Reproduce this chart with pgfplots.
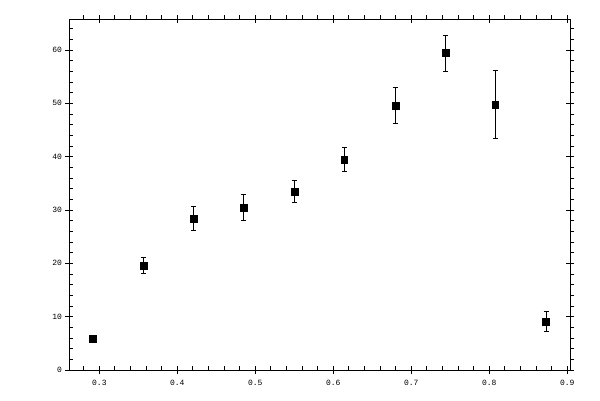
\documentclass[border=0pt]{standalone}
\usepackage{pgfplots}
\pgfplotsset{compat=1.18}
\usepackage{fontspec}
\setmonofont{Liberation Mono}

\pgfplotsset{
  base/.style={
    scale only axis, width=375.5pt, height=263pt,
    xmin=0.2615, xmax=0.9035, ymin=0, ymax=65.75,
    axis line style={line width=0.75pt},
    every tick/.style={black, line width=0.75pt},
    tick label style={font=\fontsize{6}{7}\selectfont\ttfamily},
    /pgf/number format/assume math mode=true,
  },
  minors/.style={base,
    xtick={0.28,0.32,0.34,0.36,0.38,0.42,0.44,0.46,0.48,0.52,0.54,0.56,0.58,0.62,0.64,0.66,0.68,0.72,0.74,0.76,0.78,0.82,0.84,0.86,0.88},
    ytick={2,4,6,8,12,14,16,18,22,24,26,28,32,34,36,38,42,44,46,48,52,54,56,58,62,64},
    xticklabels={}, yticklabels={}, major tick length=3pt,
  },
}

\begin{document}
\begin{tikzpicture}
% minor ticks, inward on bottom and left
\begin{axis}[minors, xtick pos=lower, ytick pos=left, tick align=inside]
\end{axis}
% minor ticks, outward on top and right
\begin{axis}[minors, xtick pos=upper, ytick pos=right, tick align=outside]
\end{axis}
% major ticks, box and data
\begin{axis}[base,
    xtick={0.3,0.4,...,0.9}, ytick={0,10,...,60},
    xticklabels={0.3,0.4,0.5,0.6,0.7,0.8,0.9},
    yticklabels={0,10,20,30,40,50,60},
    tick align=center, major tick length=6pt,
    xtick pos=both, ytick pos=both,
    xticklabel pos=lower, yticklabel pos=left,
    xticklabel style={yshift=-1pt}, yticklabel style={xshift=1pt},
  ]
  \addplot[only marks, mark=square*, mark size=2.6pt, black,
    error bars/.cd, y dir=both, y explicit,
    error bar style={line width=0.75pt},
    error mark options={rotate=90, mark size=2pt, line width=0.75pt}]
  coordinates {
    (0.291,5.9)  +- (0,0.45)
    (0.3564,19.6) +- (0,1.55)
    (0.4205,28.4) +- (0,2.2)
    (0.4846,30.5) +- (0,2.4)
    (0.5500,33.5) +- (0,2.0)
    (0.6140,39.5) +- (0,2.3)
    (0.6795,49.6) +- (0,3.3)
    (0.7436,59.4) +- (0,3.4)
    (0.8077,49.8) +- (0,6.35)
    (0.8730,9.1)  +- (0,1.9)
  };
\end{axis}
\path ([xshift=-52pt,yshift=-22.5pt]current axis.south west)
  rectangle ([xshift=22.5pt,yshift=14.5pt]current axis.north east);
\end{tikzpicture}
\end{document}
